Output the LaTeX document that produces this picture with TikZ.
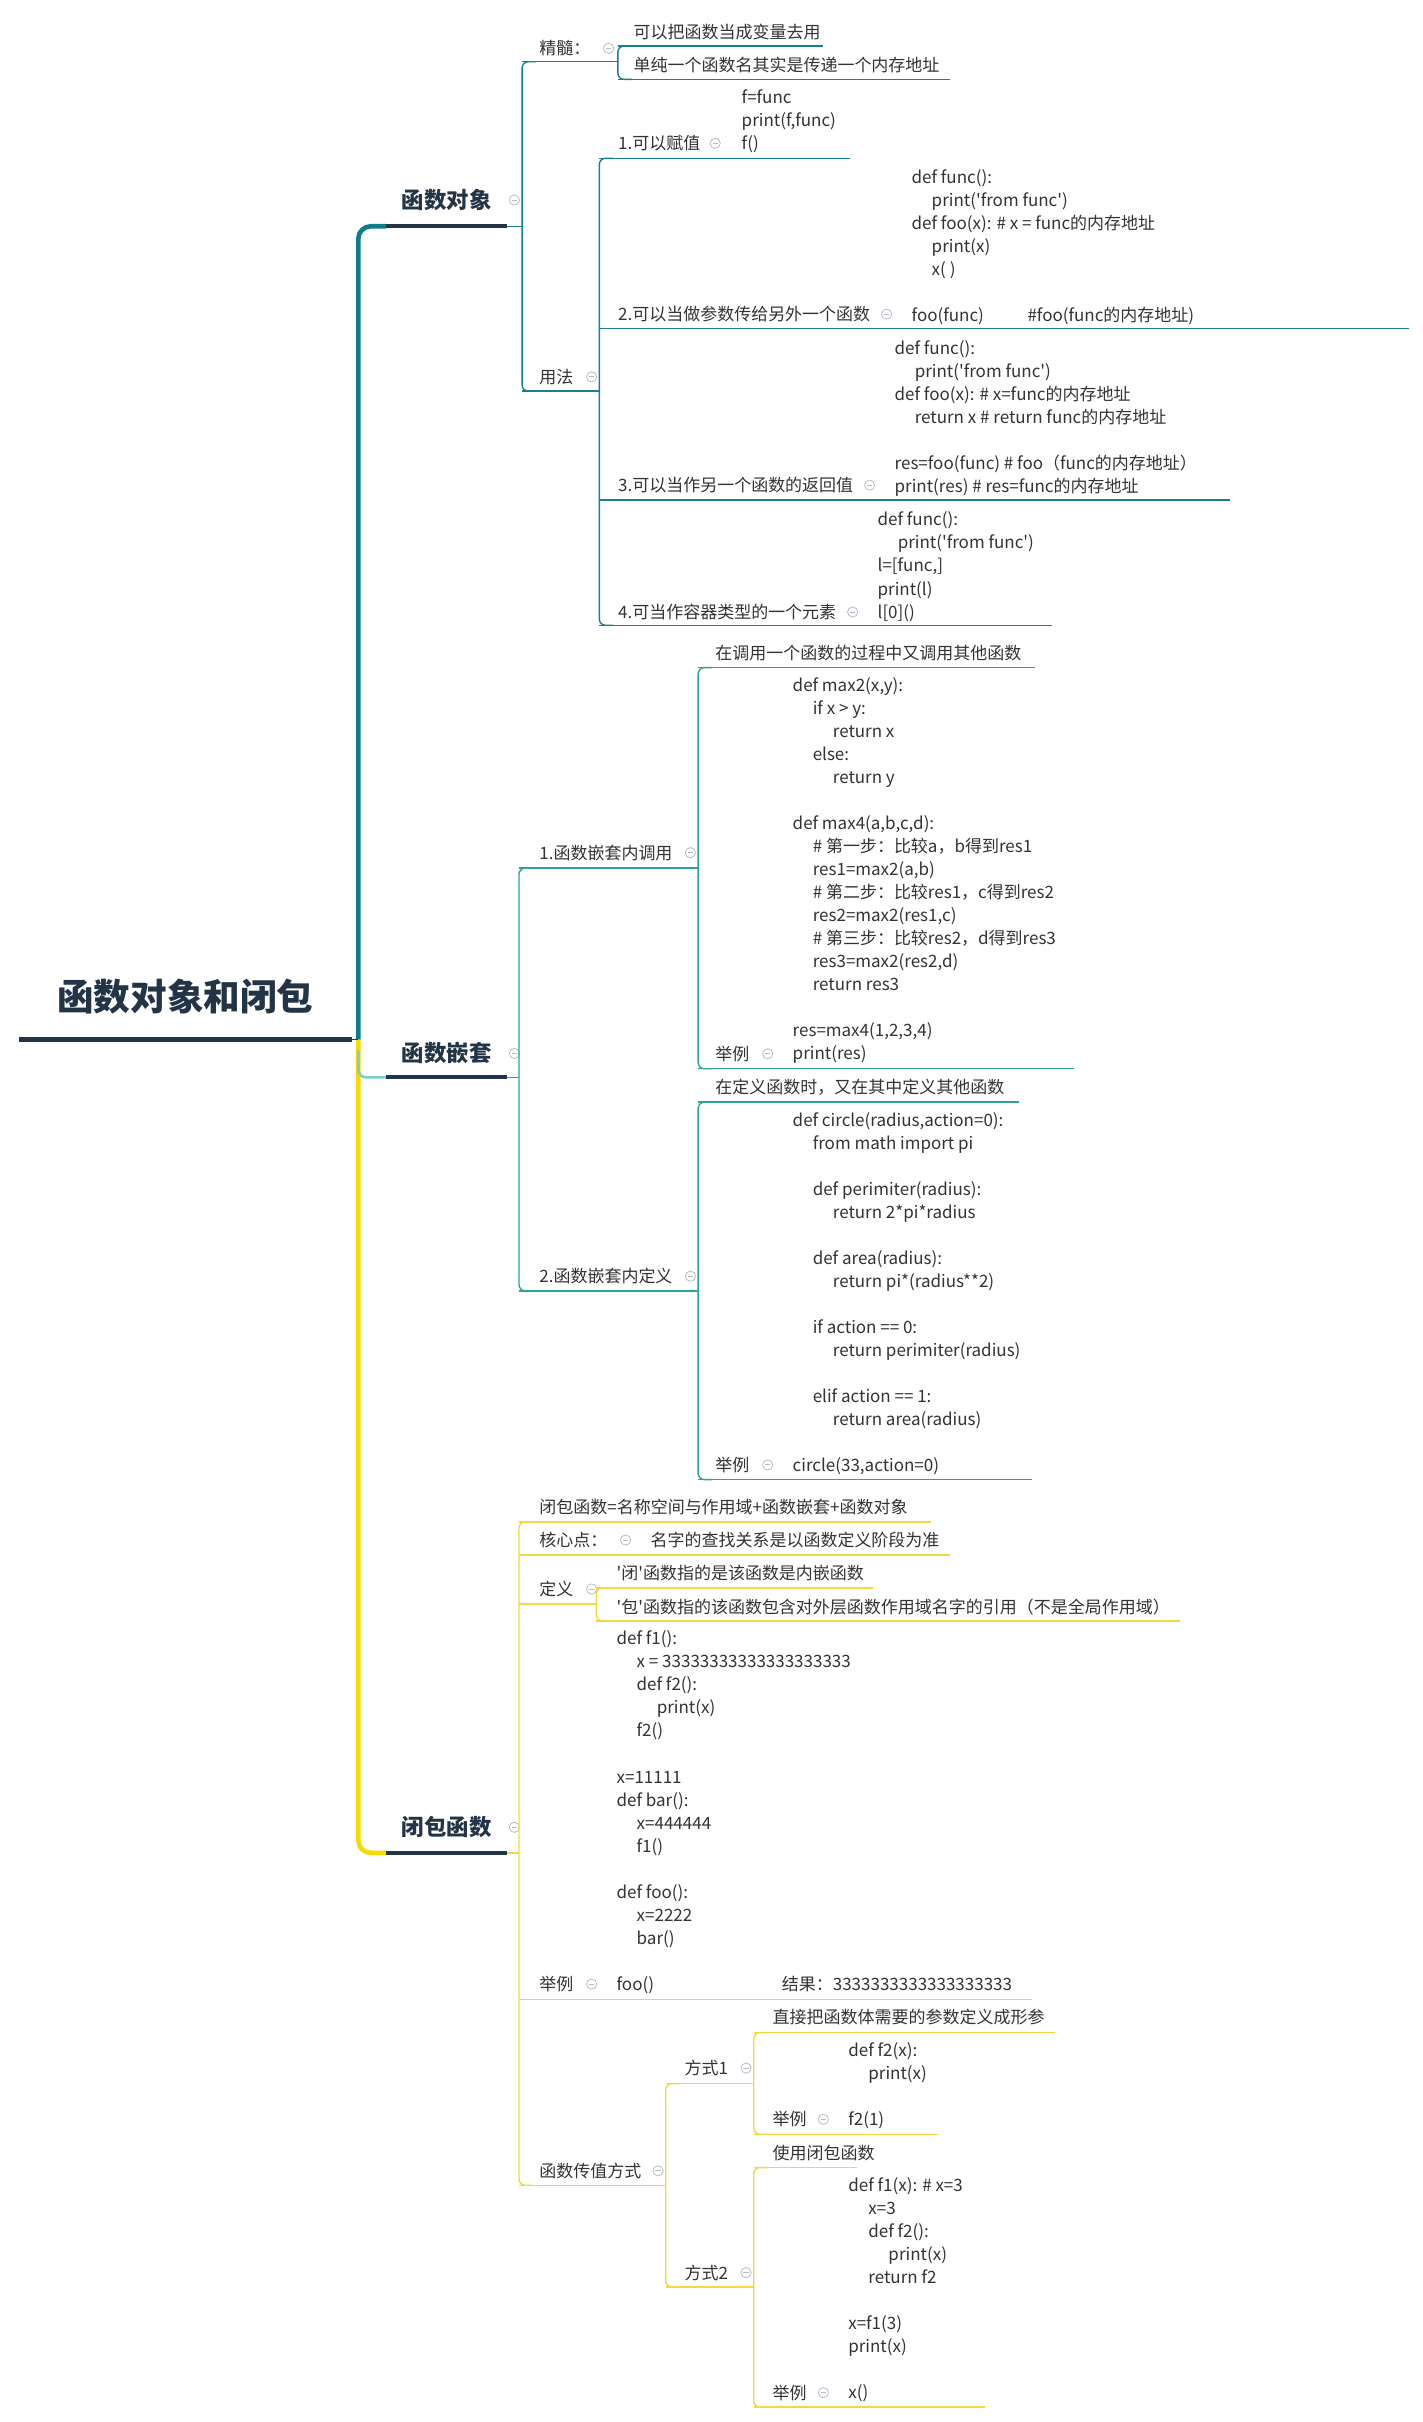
\documentclass[tikz,border=0pt]{standalone}
\usepackage{fontspec}
\newfontfamily\cjk{Noto Sans CJK SC}
\definecolor{tealA}{HTML}{0E7C8B}
\definecolor{tealAl}{HTML}{1A7F8E}
\definecolor{tealB}{HTML}{2FA39A}
\definecolor{tealBl}{HTML}{7ACFC3}
\definecolor{yelA}{HTML}{F8DA00}
\definecolor{yelB}{HTML}{F3D940}
\definecolor{navy}{HTML}{243447}
\definecolor{txtc}{HTML}{333333}
\definecolor{iconc}{HTML}{B5BAC6}
\newcommand\Ind{\hspace*{13pt}}
\newcommand\Indd{\hspace*{26pt}}
\newcommand\Code[1]{\begin{tabular}[t]{@{}l@{}}#1\end{tabular}}
\tikzset{
  txt/.style={anchor=base west, inner sep=0pt, yshift=-4.2pt, text=txtc,
    font=\cjk\fontsize{11pt}{14.9pt}\selectfont},
  head/.style={anchor=base west, inner sep=0pt, yshift=-5.5pt, text=navy,
    font=\cjk\bfseries\fontsize{14.5pt}{16pt}\selectfont},
  rootn/.style={anchor=base, inner sep=0pt, yshift=-9pt, text=navy,
    font=\cjk\bfseries\fontsize{23.7pt}{26pt}\selectfont},
  thinA/.style={draw=tealAl, line width=0.9pt},
  thinB/.style={draw=tealB, line width=0.9pt},
  thinY/.style={draw=yelB, line width=0.9pt},
  coll/.pic={\draw[iconc, line width=0.5pt] (0,0) circle[radius=3.3pt];
             \draw[iconc, line width=0.6pt] (-1.7pt,0) -- (1.7pt,0);}
}
\newcommand\Uline[4]{\draw[#1] (#2,#4) -- (#3,#4);}
\newcommand\Vbr[4]{\draw[#1, rounded corners=4pt] (#2+9,#3) -- (#2,#3) -- (#2,#4) -- (#2+9,#4);}
\begin{document}
\begin{tikzpicture}[x=1pt,y=-1pt]
\fill[white] (0,0) rectangle (921,1568);
\useasboundingbox (0,0) rectangle (921,1568);

% ---------- trunk ----------
\draw[tealA, line width=3pt, rounded corners=8pt] (232,673) -- (232,146.5) -- (250,146.5);
\draw[yelA, line width=3pt, rounded corners=8pt] (232,673) -- (232,1199.5) -- (250,1199.5);
\draw[tealBl, line width=1.6pt, rounded corners=5pt] (232,680) -- (232,697.5) -- (250,697.5);
\draw[navy, line width=3.2pt] (12,673) -- (228,673);
\draw[navy, line width=0.9pt] (228,673) -- (232,673);
\node[rootn] (root) at (120,645) {函数对象和闭包};

% ---------- 函数对象 ----------
\node[head] (hA) at (260,129.5) {函数对象};
\pic at (333,129.5) {coll};
\draw[navy, line width=2.6pt] (250,146.5) -- (328,146.5);
\Uline{thinA}{328}{338}{146.5}
\Vbr{thinA}{338}{40}{253.2}
% 精髓
\node[txt] (jingsui) at (349,31.3) {精髓：};
\pic at (394,31.3) {coll};
\Uline{thinA}{338}{400}{40}
\Vbr{thinA}{400}{29.8}{51.4}
\node[txt] (js1) at (410,20.5) {可以把函数当成变量去用};
\Uline{thinA}{400}{533}{29.8}
\node[txt] (js2) at (410,42.1) {单纯一个函数名其实是传递一个内存地址};
\Uline{thinA}{400}{615}{51.4}
% 用法
\node[txt] (yongfa) at (349,244) {用法};
\pic at (383,244) {coll};
\Uline{thinA}{338}{388}{253.2}
\Vbr{thinA}{388}{102.5}{404.8}
\node[txt] (u1) at (400,92.8) {1.可以赋值};
\pic at (463,92.8) {coll};
\node[txt] (u1c) at (480,63) {\Code{f=func\\ print(f,func)\\ f()}};
\Uline{thinA}{388}{550}{102.5}
\node[txt] (u2) at (400,203.4) {2.可以当做参数传给另外一个函数};
\pic at (574,203.4) {coll};
\node[txt] (u2c) at (590,114.4) {\Code{def func():\\ \Ind print('from func')\\ def foo(x): \# x = func的内存地址\\ \Ind print(x)\\ \Ind x( )\\ \\ \makebox[75pt][l]{foo(func)}\#foo(func的内存地址)}};
\Uline{thinA}{388}{912}{212.6}
\node[txt] (u3) at (400,314.1) {3.可以当作另一个函数的返回值};
\pic at (563,314.1) {coll};
\node[txt] (u3c) at (579,225) {\Code{def func():\\ \Ind print('from func')\\ def foo(x): \# x=func的内存地址\\ \Ind return x \# return func的内存地址\\ \\ res=foo(func) \# foo（func的内存地址）\\ print(res) \# res=func的内存地址}};
\Uline{thinA}{388}{796}{323.8}
\node[txt] (u4) at (400,396.2) {4.可当作容器类型的一个元素};
\pic at (552,396.2) {coll};
\node[txt] (u4c) at (568,336.3) {\Code{def func():\\ \Ind print('from func')\\ l=[func,]\\ print(l)\\ l[0]()}};
\Uline{thinA}{388}{681}{404.8}

% ---------- 函数嵌套 ----------
\node[head] (hB) at (260,682) {函数嵌套};
\pic at (333,682) {coll};
\draw[navy, line width=2.6pt] (250,697.5) -- (328,697.5);
\Uline{thinB}{328}{336}{697.5}
\Vbr{thinB}{336}{562}{835.7}
\node[txt] (b1) at (349,552) {1.函数嵌套内调用};
\pic at (447,552) {coll};
\Uline{thinB}{336}{452}{562}
\Vbr{thinB}{452}{432.2}{691.9}
\node[txt] (b1a) at (463,422.7) {在调用一个函数的过程中又调用其他函数};
\Uline{thinB}{452}{670}{432.2}
\node[txt] (b1b) at (463,682.2) {举例};
\pic at (497,682.2) {coll};
\node[txt] (b1c) at (513,443.6) {\Code{def max2(x,y):\\
\Ind if x > y:\\
\Indd return x\\
\Ind else:\\
\Indd return y\\
\\
def max4(a,b,c,d):\\
\Ind \# 第一步：比较a，b得到res1\\
\Ind res1=max2(a,b)\\
\Ind \# 第二步：比较res1，c得到res2\\
\Ind res2=max2(res1,c)\\
\Ind \# 第三步：比较res2，d得到res3\\
\Ind res3=max2(res2,d)\\
\Ind return res3\\
\\
res=max4(1,2,3,4)\\
print(res)}};
\Uline{thinB}{452}{695}{691.9}
\node[txt] (b2) at (349,826.2) {2.函数嵌套内定义};
\pic at (447,826.2) {coll};
\Uline{thinB}{336}{452}{835.7}
\Vbr{thinB}{452}{713.5}{957.9}
\node[txt] (b2a) at (463,703.8) {在定义函数时，又在其中定义其他函数};
\Uline{thinB}{452}{660}{713.5}
\node[txt] (b2b) at (463,948.4) {举例};
\pic at (497,948.4) {coll};
\node[txt] (b2c) at (513,725) {\Code{def circle(radius,action=0):\\
\Ind from math import pi\\
\\
\Ind def perimiter(radius):\\
\Indd return 2*pi*radius\\
\\
\Ind def area(radius):\\
\Indd return pi*(radius**2)\\
\\
\Ind if action == 0:\\
\Indd return perimiter(radius)\\
\\
\Ind elif action == 1:\\
\Indd return area(radius)\\
\\
circle(33,action=0)}};
\Uline{thinB}{452}{668}{957.9}

% ---------- 闭包函数 ----------
\node[head] (hC) at (260,1183) {闭包函数};
\pic at (333,1183) {coll};
\draw[navy, line width=2.6pt] (250,1199.5) -- (328,1199.5);
\Uline{thinY}{328}{336}{1199.5}
\Vbr{thinY}{336}{985.3}{1414.7}
\node[txt] (c1) at (349,975.8) {闭包函数=名称空间与作用域+函数嵌套+函数对象};
\Uline{thinY}{336}{603}{985.3}
\node[txt] (c2) at (349,997) {核心点：};
\pic at (405,997) {coll};
\node[txt] (c2a) at (421,997) {名字的查找关系是以函数定义阶段为准};
\Uline{thinY}{336}{615}{1006.7}
\node[txt] (c3) at (349,1028.7) {定义};
\pic at (383,1028.7) {coll};
\Uline{thinY}{336}{386}{1038.4}
\Vbr{thinY}{386}{1028}{1049.4}
\node[txt] (c3a) at (399,1018.6) {'闭'函数指的是该函数是内嵌函数};
\Uline{thinY}{386}{565}{1028}
\node[txt] (c3b) at (399,1040.2) {'包'函数指的该函数包含对外层函数作用域名字的引用（不是全局作用域）};
\Uline{thinY}{386}{764}{1049.4}
\node[txt] (c4) at (349,1284.5) {举例};
\pic at (383,1284.5) {coll};
\node[txt] (c4c) at (399,1060.7) {\Code{def f1():\\
\Ind x = 33333333333333333333\\
\Ind def f2():\\
\Indd print(x)\\
\Ind f2()\\
\\
x=11111\\
def bar():\\
\Ind x=444444\\
\Ind f1()\\
\\
def foo():\\
\Ind x=2222\\
\Ind bar()\\
\\
foo()}};
\node[txt] (c4r) at (506,1284.5) {结果：3333333333333333333};
\Uline{thinY}{336}{668}{1294.3}
\node[txt] (c5) at (349,1405.4) {函数传值方式};
\pic at (426,1405.4) {coll};
\Uline{thinY}{336}{431}{1414.7}
\Vbr{thinY}{431}{1348.9}{1480.6}
\node[txt] (m1) at (443,1338.9) {方式1};
\pic at (483,1338.9) {coll};
\Uline{thinY}{431}{488}{1348.9}
\Vbr{thinY}{488}{1315.9}{1381.7}
\node[txt] (m1a) at (500,1306.1) {直接把函数体需要的参数定义成形参};
\Uline{thinY}{488}{683}{1315.9}
\node[txt] (m1b) at (500,1372) {举例};
\pic at (533,1372) {coll};
\node[txt] (m1c) at (549,1327.3) {\Code{def f2(x):\\ \Ind print(x)\\ \\ f2(1)}};
\Uline{thinY}{488}{607}{1381.7}
\node[txt] (m2) at (443,1471.3) {方式2};
\pic at (483,1471.3) {coll};
\Uline{thinY}{431}{488}{1480.6}
\Vbr{thinY}{488}{1403.3}{1558.3}
\node[txt] (m2a) at (500,1393.6) {使用闭包函数};
\Uline{thinY}{488}{555}{1403.3}
\node[txt] (m2b) at (500,1549) {举例};
\pic at (533,1549) {coll};
\node[txt] (m2c) at (549,1414.5) {\Code{def f1(x): \# x=3\\ \Ind x=3\\ \Ind def f2():\\ \Indd print(x)\\ \Ind return f2\\ \\ x=f1(3)\\ print(x)\\ \\ x()}};
\Uline{thinY}{488}{638}{1558.3}
\end{tikzpicture}
\end{document}
